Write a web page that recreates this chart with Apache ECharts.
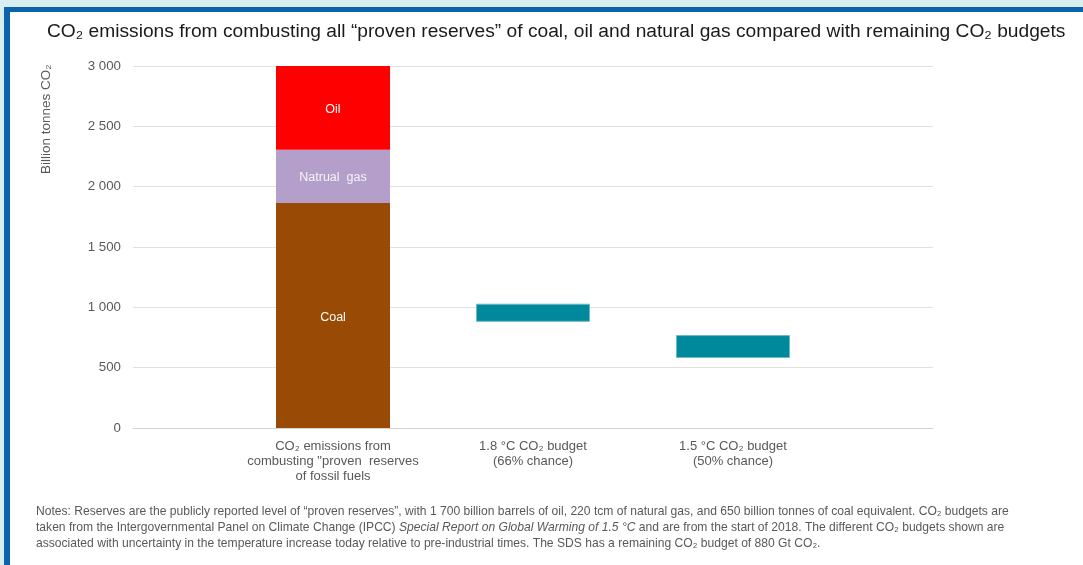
<!DOCTYPE html>
<html>
<head>
<meta charset="utf-8">
<script src="https://cdn.jsdelivr.net/npm/echarts@6/dist/echarts.min.js"></script>
<style>
  html, body { margin: 0; padding: 0; background: #d8eef1; }
  #chart { width: 1083px; height: 565px; }
</style>
</head>
<body>
<div id="chart"></div>
<script>
// Category slots: empty slots at both ends keep the three bars centred in the plot area
const categories = [
  '',
  'CO\u2082 emissions from\ncombusting "proven  reserves\nof fossil fuels',
  '1.8 \u00b0C CO\u2082 budget\n(66% chance)',
  '1.5 \u00b0C CO\u2082 budget\n(50% chance)',
  ''
];

// Billion tonnes CO2 from proven reserves, by fuel
const coal = ['-', 1865, '-', '-', '-'];
const naturalGas = ['-', 440, '-', '-', '-'];
const oil = ['-', 695, '-', '-', '-'];

// Remaining CO2 budgets shown as ranges: lower bound and span
const budgetLow = ['-', '-', 880, 580, '-'];
const budgetSpan = ['-', '-', 150, 190, '-'];

const yTicks = { min: 0, max: 3000, interval: 500 };

const chart = echarts.init(document.getElementById('chart'), null, { renderer: 'canvas' });

const fmtThousands = v => String(v).replace(/\B(?=(\d{3})+(?!\d))/g, ' ');

const FONT = 'Liberation Sans, Arial, sans-serif';

const segLabel = {
  show: true,
  position: 'inside',
  color: '#ffffff',
  fontFamily: FONT,
  fontSize: 12.5,
  offset: [0, 2]
};

chart.setOption({
  animation: false,
  backgroundColor: 'transparent',
  textStyle: { fontFamily: FONT },
  title: {
    text: 'CO\u2082 emissions from combusting all \u201cproven reserves\u201d of coal, oil and natural gas compared with remaining CO\u2082 budgets',
    left: 42,
    top: 17,
    textStyle: {
      fontFamily: FONT,
      fontSize: 19.2,
      fontWeight: 'normal',
      color: '#1a1a1a'
    }
  },
  grid: { left: 133, right: 150, top: 66, bottom: 137, containLabel: false },
  xAxis: {
    type: 'category',
    data: categories,
    boundaryGap: false,
    axisLine: { show: true, lineStyle: { color: '#d4d4d4', width: 1 } },
    axisTick: { show: false },
    splitLine: { show: false },
    axisLabel: {
      interval: 0,
      margin: 11,
      color: '#595959',
      fontSize: 13,
      lineHeight: 15,
      align: 'center'
    }
  },
  yAxis: {
    type: 'value',
    min: yTicks.min,
    max: yTicks.max,
    interval: yTicks.interval,
    axisLine: { show: false },
    axisTick: { show: false },
    splitLine: { lineStyle: { color: '#e0e0e0', width: 1 } },
    axisLabel: {
      margin: 12,
      color: '#595959',
      fontSize: 13.3,
      formatter: fmtThousands
    }
  },
  series: [
    {
      name: 'Coal', type: 'bar', stack: 'total', barWidth: 114, data: coal,
      itemStyle: { color: '#994a05' },
      label: Object.assign({}, segLabel, { formatter: 'Coal' })
    },
    {
      name: 'Natrual gas', type: 'bar', stack: 'total', barWidth: 114, data: naturalGas,
      itemStyle: { color: '#b49fcb' },
      label: Object.assign({}, segLabel, { color: '#f4f4f4', formatter: 'Natrual  gas', offset: [0, 1] })
    },
    {
      name: 'Oil', type: 'bar', stack: 'total', barWidth: 114, data: oil,
      itemStyle: { color: '#ff0000' },
      label: Object.assign({}, segLabel, { formatter: 'Oil' })
    },
    {
      name: 'Budget base', type: 'bar', stack: 'total', barWidth: 114, data: budgetLow,
      itemStyle: { color: 'rgba(0,0,0,0)' },
      silent: true
    },
    {
      name: 'CO\u2082 budget', type: 'bar', stack: 'total', barWidth: 114, data: budgetSpan,
      itemStyle: { color: '#00889c', borderColor: '#6fb8c4', borderWidth: 1 }
    }
  ],
  graphic: [
    // page frame: blue rule along top and left edge, white panel
    { type: 'rect', z: -10, silent: true, shape: { x: 4, y: 7, width: 1079, height: 558 }, style: { fill: '#0b63ab' } },
    { type: 'rect', z: -9, silent: true, shape: { x: 10, y: 12, width: 1073, height: 553 }, style: { fill: '#ffffff' } },
    {
      type: 'text',
      rotation: Math.PI / 2,
      x: 39, y: 174,
      style: {
        text: 'Billion tonnes CO\u2082',
        fill: '#595959',
        font: '13.5px "Liberation Sans", Arial, sans-serif'
      }
    },
    {
      type: 'text',
      x: 36, y: 504,
      style: {
        text: 'Notes: Reserves are the publicly reported level of \u201cproven reserves\u201d, with 1 700 billion barrels of oil, 220 tcm of natural gas, and 650 billion tonnes of coal equivalent. CO\u2082 budgets are\n' +
              'taken from the Intergovernmental Panel on Climate Change (IPCC) {i|Special Report on Global Warming of 1.5 \u00b0C} and are from the start of 2018. The different CO\u2082 budgets shown are\n' +
              'associated with uncertainty in the temperature increase today relative to pre-industrial times. The SDS has a remaining CO\u2082 budget of 880 Gt CO\u2082.',
        fill: '#595959',
        font: '12.1px "Liberation Sans", Arial, sans-serif',
        lineHeight: 16,
        rich: {
          i: { fontStyle: 'italic', fontSize: 12.1, fontFamily: '"Liberation Sans", Arial, sans-serif', fill: '#595959', lineHeight: 16 }
        }
      }
    }
  ]
});
</script>
</body>
</html>
